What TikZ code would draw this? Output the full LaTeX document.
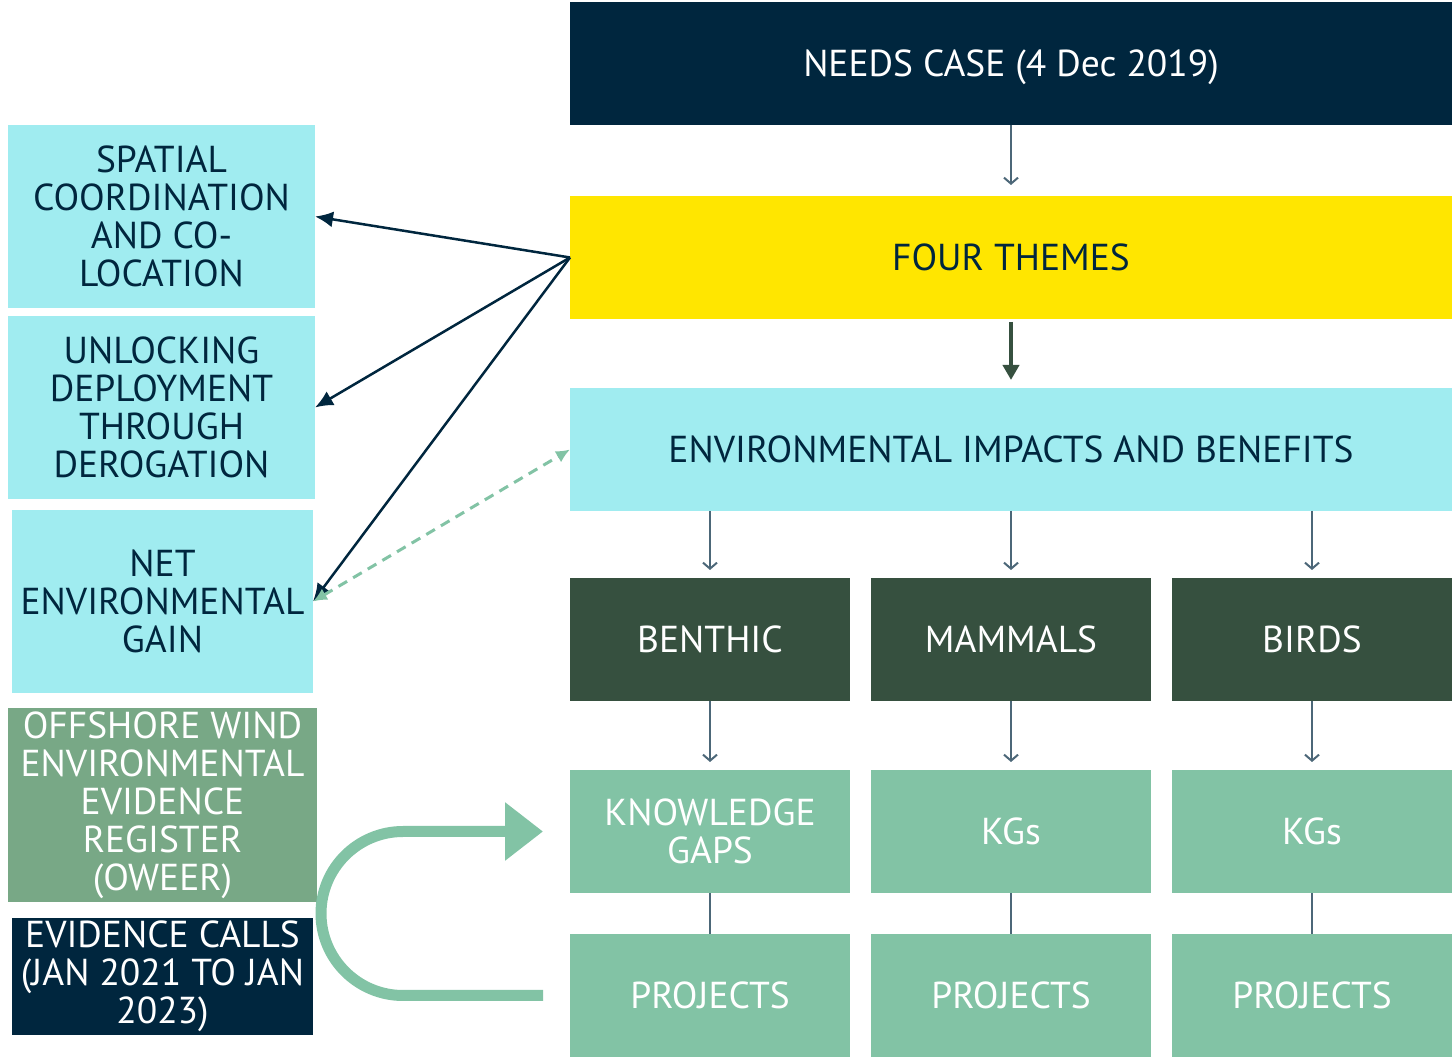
\documentclass[tikz,border=0pt]{standalone}
\usepackage{fontspec}
\setmainfont{PT Sans}
\usepackage{tikz}
\usetikzlibrary{arrows.meta, positioning}
\definecolor{owf_navy}{HTML}{00263E}
\definecolor{owf_yellow}{HTML}{FFE600}
\definecolor{owf_cyan}{HTML}{A0ECF0}
\definecolor{owf_dgreen}{HTML}{36503F}
\definecolor{owf_green}{HTML}{82C3A5}
\definecolor{owf_sage}{HTML}{78A886}
\tikzset{
  box/.style={rectangle,inner sep=0pt,outer sep=0pt,minimum height=123pt,align=center,font=\fontsize{37.5}{38}\selectfont},
  widebox/.style={box,minimum width=882pt},
  groupbox/.style={box,minimum width=280pt},
  sidebox/.style={box,minimum width=307pt,minimum height=183pt,fill=owf_cyan,text=owf_navy},
  stepdown/.style={draw=owf_navy!70,line width=2pt,-{Straight Barb[length=6pt,width=14pt,line width=2pt]},shorten >=8pt},
  theme/.style={draw=owf_navy,line width=2.5pt,-{Latex[length=18pt,width=16pt]}},
  feedback/.style={draw=owf_green,line width=3pt,dash pattern=on 10pt off 7pt,{Latex[length=14pt,width=13pt]}-{Latex[length=14pt,width=13pt]}},
  loopback/.style={draw=owf_green,line width=11pt,-{Triangle[length=38pt,width=56pt]}},
}
\begin{document}
\begin{tikzpicture}[x=1pt,y=1pt]
	\useasboundingbox (0,0) rectangle (1452,1063);
	% right column
	\node[widebox,fill=owf_navy,text=white,text depth=0pt] (needs) at (1011,999.5) {NEEDS CASE (4 Dec 2019)};
	\node[widebox,fill=owf_yellow,text=owf_navy,below=71pt of needs] (themes) {FOUR THEMES};
	\node[widebox,fill=owf_cyan,text=owf_navy,below=69pt of themes] (env) {ENVIRONMENTAL IMPACTS AND BENEFITS};
	\node[groupbox,fill=owf_dgreen,text=white,below right=67pt and 0pt of env.south west] (benthic) {BENTHIC};
	\node[groupbox,fill=owf_dgreen,text=white,right=21pt of benthic] (mammals) {MAMMALS};
	\node[groupbox,fill=owf_dgreen,text=white,right=21pt of mammals] (birds) {BIRDS};
	\node[groupbox,fill=owf_green,text=white,below=69pt of benthic] (kgb) {KNOWLEDGE\\GAPS};
	\node[groupbox,fill=owf_green,text=white,below=69pt of mammals] (kgm) {KGs};
	\node[groupbox,fill=owf_green,text=white,below=69pt of birds] (kgr) {KGs};
	\node[groupbox,fill=owf_green,text=white,below=41pt of kgb] (prb) {PROJECTS};
	\node[groupbox,fill=owf_green,text=white,below=41pt of kgm] (prm) {PROJECTS};
	\node[groupbox,fill=owf_green,text=white,below=41pt of kgr] (prr) {PROJECTS};
	% left column
	\node[sidebox] (spatial) at (161.5,846.5) {SPATIAL\\COORDINATION\\AND CO-\\LOCATION};
	\node[sidebox] (unlock) at (161.5,655.5) {UNLOCKING\\DEPLOYMENT\\THROUGH\\DEROGATION};
	\node[sidebox,minimum width=301pt] (net) at (162.5,461.5) {NET\\ENVIRONMENTAL\\GAIN};
	\node[box,minimum width=309pt,minimum height=194pt,fill=owf_sage,text=white] (oweer) at (162.5,258)
		{OFFSHORE WIND\\ENVIRONMENTAL\\EVIDENCE\\REGISTER\\(OWEER)};
	\node[box,minimum width=301pt,minimum height=117pt,fill=owf_navy,text=white] (calls) at (162.5,86.5)
		{EVIDENCE CALLS\\(JAN 2021 TO JAN\\2023)};
	% connectors
	\draw[stepdown,shorten >=11pt] (needs) -- (themes);
	\draw[draw=owf_dgreen,line width=4.5pt,-{Triangle[length=15pt,width=16pt]},shorten <=3pt,shorten >=8pt] (themes) -- (env);
	\foreach \g in {benthic,mammals,birds}
		\draw[stepdown] (env.south -| \g) -- (\g);
	\draw[stepdown] (benthic) -- (kgb);
	\draw[stepdown] (mammals) -- (kgm);
	\draw[stepdown] (birds) -- (kgr);
	\draw[draw=owf_navy!70,line width=2pt] (kgb) -- (prb) (kgm) -- (prm) (kgr) -- (prr);
	\draw[theme] (themes.west) -- (spatial.east);
	\draw[theme] (themes.west) -- (unlock.east);
	\draw[theme] (themes.west) -- (net.east);
	\draw[feedback] (net.east) -- (env.west);
	\draw[loopback] ([xshift=-27pt]prb.west) -- ++(-140pt,0) arc[start angle=270,end angle=90,radius=82pt] -- ([xshift=-27pt]kgb.west);
\end{tikzpicture}
\end{document}
